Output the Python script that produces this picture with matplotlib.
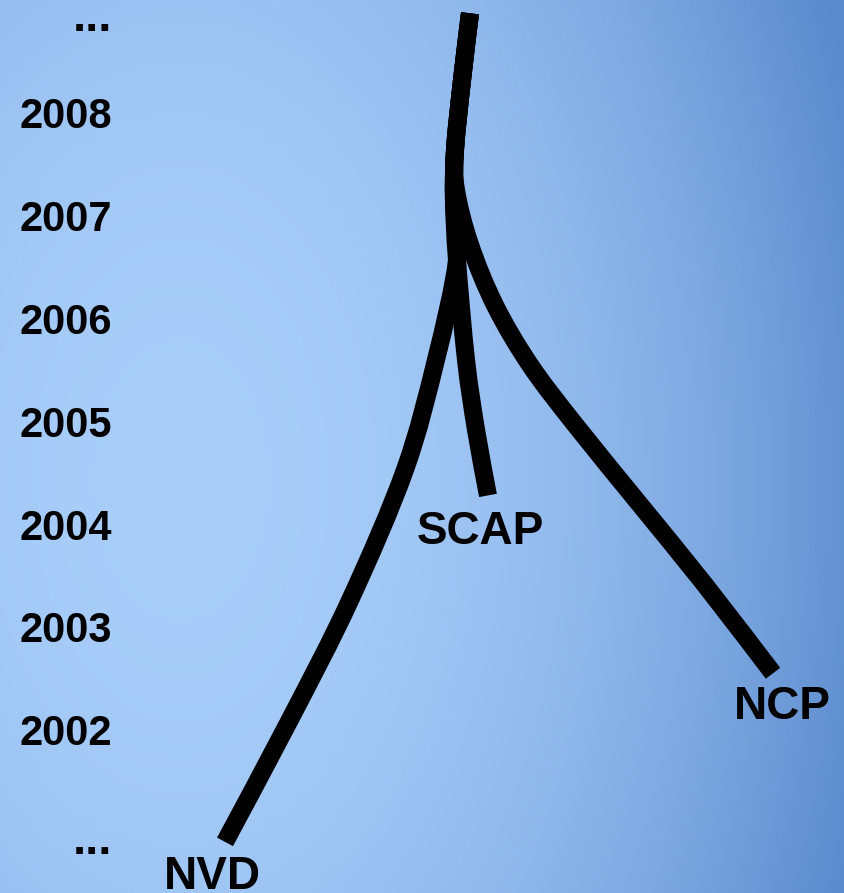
import numpy as np
import matplotlib
matplotlib.use("Agg")
import matplotlib.pyplot as plt
from matplotlib.path import Path
from matplotlib.patches import PathPatch
from matplotlib.colors import to_rgb

plt.rcParams['font.family'] = ['Liberation Sans', 'DejaVu Sans']

# year labels on the left (top and bottom are "...")
years = [2009, 2008, 2007, 2006, 2005, 2004, 2003, 2002, 2001]
year_labels = ["...", "2008", "2007", "2006", "2005", "2004", "2003", "2002", "..."]

# common trunk: horizontal position (0..844) and year
trunk_x = [470, 462, 455]
trunk_y = [2008.97, 2008.32, 2007.64]

# branches continue from the trunk
ncp_x = [456, 470, 495, 530, 575, 640, 705, 773]
ncp_y = [2007.25, 2006.72, 2006.13, 2005.55, 2004.97, 2004.19, 2003.41, 2002.55]

scap_x = [454, 457, 466, 476, 488]
scap_y = [2007.15, 2006.57, 2005.60, 2004.92, 2004.28]

nvd_x = [454, 457, 436, 405, 350, 290, 225]
nvd_y = [2007.15, 2006.57, 2005.60, 2004.53, 2003.26, 2002.10, 2000.91]

branch_names = ["SCAP", "NCP", "NVD"]
name_x = [480, 782, 212]
name_y = [2003.97, 2002.27, 2000.62]


def smooth_path(xs, ys):
    # Catmull-Rom spline through the points, drawn as cubic Bezier pieces
    p = np.column_stack([xs, ys]).astype(float)
    p = np.vstack([p[0], p, p[-1]])
    verts = [p[1]]
    codes = [Path.MOVETO]
    for i in range(1, len(p) - 2):
        c1 = p[i] + (p[i + 1] - p[i - 1]) / 6
        c2 = p[i + 1] - (p[i + 2] - p[i]) / 6
        verts += [c1, c2, p[i + 1]]
        codes += [Path.CURVE4] * 3
    return Path(verts, codes)


fig = plt.figure(figsize=(8.44, 8.93), dpi=100)
ax = fig.add_axes([0, 0, 1, 1])
y_top = 2008 + 113 / 102.8
y_bot = 2008 - 780 / 102.8
ax.set_xlim(0, 844)
ax.set_ylim(y_bot, y_top)
ax.axis('off')

# background gradient
gx, gy = np.meshgrid(np.linspace(0, 844, 422), np.linspace(0, 893, 447))
t = ((gx - 180) / 680) ** 2 + ((gy - 480) / 1100) ** 2
t = np.clip(t / 1.1, 0, 1)[..., None]
light = np.array(to_rgb("#a9cefa"))
dark = np.array(to_rgb("#5a8acd"))
img = light * (1 - t) + dark * t
ax.imshow(img, extent=[0, 844, y_bot, y_top], origin='upper', aspect='auto', zorder=0)

for bx, by in [(ncp_x, ncp_y), (scap_x, scap_y), (nvd_x, nvd_y)]:
    patch = PathPatch(smooth_path(trunk_x + bx, trunk_y + by), facecolor='none',
                      edgecolor='black', lw=13, capstyle='butt',
                      joinstyle='round', zorder=2)
    ax.add_patch(patch)

for yr, lab in zip(years, year_labels):
    dots = lab == "..."
    ax.text(92 if dots else 66, yr - (0.04 if dots else 0), lab,
            fontsize=34 if dots else 30, fontweight='bold',
            ha='center', va='center_baseline', color='black', zorder=3)

for nm, nx, ny in zip(branch_names, name_x, name_y):
    ax.text(nx, ny, nm, fontsize=33, fontweight='bold', ha='center',
            va='center_baseline', color='black', zorder=3)

fig.savefig("out.png", dpi=100)
